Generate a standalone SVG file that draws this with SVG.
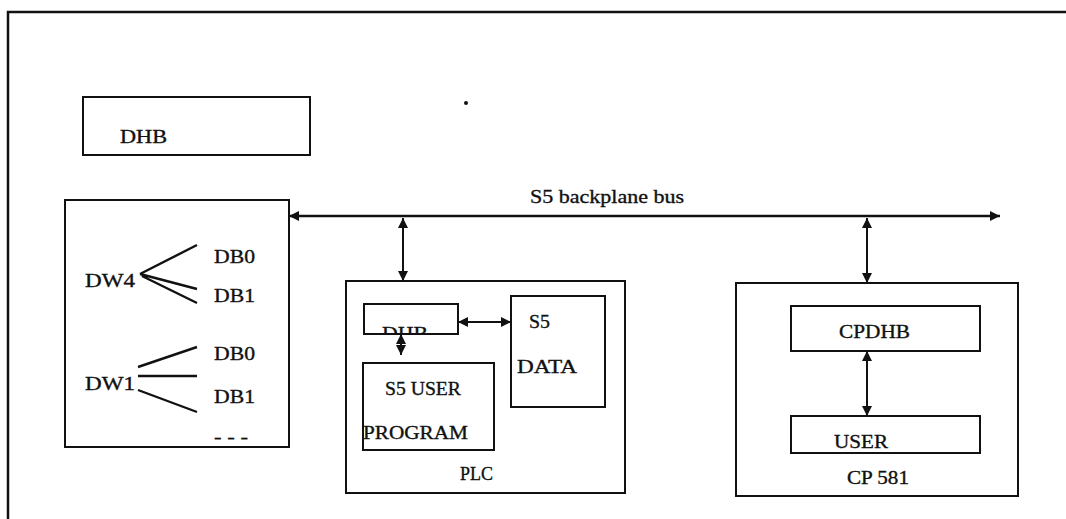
<svg xmlns="http://www.w3.org/2000/svg" width="1066" height="519" viewBox="0 0 1066 519">
<style>
  .box { fill: none; stroke: #111; stroke-width: 2; }
  .frame { fill: none; stroke: #111; stroke-width: 2.5; }
  .t { font-family: "Liberation Serif", "Times New Roman", serif; font-size: 19px; fill: #111; stroke: #111; stroke-width: 0.35; }
  .ln { stroke: #111; stroke-width: 2.4; fill: none; }
  .conn { stroke: #111; stroke-width: 2; fill: none; marker-start: url(#ah); marker-end: url(#ah); }
  .bus { stroke: #111; stroke-width: 2.5; fill: none; marker-start: url(#ah); marker-end: url(#ah); }
</style>
<defs>
  <marker id="ah" viewBox="0 0 10 10" refX="10" refY="5" markerWidth="12" markerHeight="10" markerUnits="userSpaceOnUse" orient="auto-start-reverse">
    <path d="M0,0 L10,5 L0,10 z" fill="#111"/>
  </marker>
  <clipPath id="dhbclip"><rect x="364" y="304" width="94" height="30"/></clipPath>
</defs>
<rect width="1066" height="519" fill="#fff"/>
<path class="frame" d="M8,519 V12 H1066"/>
<circle cx="466" cy="103" r="2" fill="#111"/>

<g id="dhb-top">
  <rect class="box" x="83" y="97" width="227" height="58"/>
  <text class="t" x="120" y="143" textLength="47" lengthAdjust="spacingAndGlyphs">DHB</text>
</g>

<g id="bus-label">
  <text class="t" x="530" y="203" textLength="154" lengthAdjust="spacingAndGlyphs">S5 backplane bus</text>
</g>

<g id="dw-box">
  <rect class="box" x="65" y="200" width="224" height="247"/>
  <text class="t" x="85" y="287" textLength="50" lengthAdjust="spacingAndGlyphs">DW4</text>
  <text class="t" x="214" y="263" textLength="41" lengthAdjust="spacingAndGlyphs">DB0</text>
  <text class="t" x="214" y="302" textLength="41" lengthAdjust="spacingAndGlyphs">DB1</text>
  <path class="ln" d="M140,274 L197,245 M140,274 L197,289 M142,276 L197,303"/>
  <text class="t" x="85" y="390" textLength="50" lengthAdjust="spacingAndGlyphs">DW1</text>
  <text class="t" x="214" y="360" textLength="41" lengthAdjust="spacingAndGlyphs">DB0</text>
  <text class="t" x="214" y="403" textLength="41" lengthAdjust="spacingAndGlyphs">DB1</text>
  <path class="ln" d="M138,367 L197,347 M138,376 L197,376 M138,390 L197,412"/>
  <text class="t" x="214" y="443" textLength="34" lengthAdjust="spacingAndGlyphs">- - -</text>
</g>

<g id="plc">
  <rect class="box" x="346" y="281" width="279" height="212"/>
  <text class="t" x="460" y="480" textLength="33" lengthAdjust="spacingAndGlyphs">PLC</text>
</g>
<g id="plc-dhb">
  <rect class="box" x="364" y="304" width="94" height="30"/>
  <text class="t" x="382" y="340" clip-path="url(#dhbclip)" textLength="46" lengthAdjust="spacingAndGlyphs">DHB</text>
</g>
<g id="s5-data">
  <rect class="box" x="511" y="296" width="94" height="111"/>
  <text class="t" x="529" y="328" textLength="21" lengthAdjust="spacingAndGlyphs">S5</text>
  <text class="t" x="517" y="373" textLength="60" lengthAdjust="spacingAndGlyphs">DATA</text>
</g>
<g id="s5-user-program">
  <rect class="box" x="363" y="363" width="131" height="87"/>
  <text class="t" x="385" y="395" textLength="76" lengthAdjust="spacingAndGlyphs">S5  USER</text>
  <text class="t" x="363" y="439" textLength="105" lengthAdjust="spacingAndGlyphs">PROGRAM</text>
</g>

<g id="cp581">
  <rect class="box" x="736" y="283" width="282" height="213"/>
  <text class="t" x="847" y="484" textLength="62" lengthAdjust="spacingAndGlyphs">CP 581</text>
</g>
<g id="cpdhb">
  <rect class="box" x="791" y="306" width="189" height="45"/>
  <text class="t" x="839" y="338" textLength="71" lengthAdjust="spacingAndGlyphs">CPDHB</text>
</g>
<g id="user">
  <rect class="box" x="791" y="416" width="189" height="37"/>
  <text class="t" x="834" y="448" textLength="54" lengthAdjust="spacingAndGlyphs">USER</text>
</g>

<g id="connectors">
  <line class="bus" x1="289" y1="216" x2="1000" y2="216"/>
  <line class="conn" x1="403" y1="218" x2="403" y2="281"/>
  <line class="conn" x1="867" y1="218" x2="867" y2="283"/>
  <line class="conn" x1="458" y1="322" x2="511" y2="322"/>
  <line class="conn" x1="401" y1="334" x2="401" y2="355"/>
  <line class="conn" x1="867" y1="351" x2="867" y2="416"/>
</g>
</svg>
